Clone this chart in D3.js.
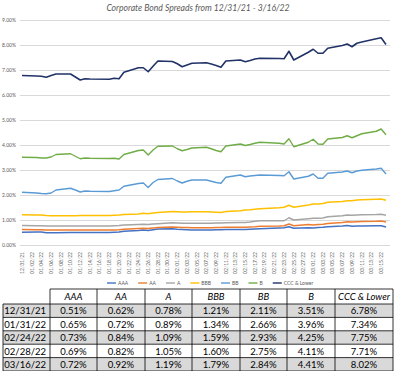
<!DOCTYPE html>
<html><head><meta charset="utf-8">
<script src="https://cdn.jsdelivr.net/npm/d3@7/dist/d3.min.js"></script>
<style>body{margin:0;background:#fff;}svg{display:block;}</style>
</head><body><svg id="c" width="399" height="371"></svg>
<script>
const dates = ["2021-12-31","2022-01-03","2022-01-04","2022-01-05","2022-01-06","2022-01-07","2022-01-10","2022-01-11","2022-01-12","2022-01-13","2022-01-14","2022-01-18","2022-01-19","2022-01-20","2022-01-21","2022-01-24","2022-01-25","2022-01-26","2022-01-27","2022-01-28","2022-01-31","2022-02-01","2022-02-02","2022-02-03","2022-02-04","2022-02-07","2022-02-08","2022-02-09","2022-02-10","2022-02-11","2022-02-14","2022-02-15","2022-02-16","2022-02-17","2022-02-18","2022-02-22","2022-02-23","2022-02-24","2022-02-25","2022-02-28","2022-03-01","2022-03-02","2022-03-03","2022-03-04","2022-03-07","2022-03-08","2022-03-09","2022-03-10","2022-03-11","2022-03-14","2022-03-15","2022-03-16"];
const seriesNames = ["AAA","AA","A","BBB","BB","B","CCC & Lower"];
const AAA = [0.51,0.52,0.52,0.49,0.49,0.49,0.50,0.50,0.50,0.50,0.50,0.50,0.51,0.52,0.55,0.58,0.60,0.58,0.61,0.64,0.65,0.63,0.62,0.61,0.60,0.60,0.60,0.61,0.61,0.62,0.62,0.62,0.63,0.64,0.65,0.68,0.69,0.73,0.67,0.69,0.68,0.70,0.71,0.73,0.76,0.78,0.75,0.76,0.76,0.77,0.77,0.72];
const AA = [0.62,0.61,0.61,0.60,0.60,0.60,0.60,0.60,0.60,0.60,0.60,0.60,0.60,0.61,0.63,0.66,0.67,0.66,0.68,0.70,0.72,0.71,0.70,0.70,0.69,0.69,0.69,0.70,0.70,0.71,0.71,0.71,0.72,0.73,0.75,0.76,0.77,0.84,0.77,0.82,0.80,0.82,0.83,0.86,0.90,0.93,0.92,0.93,0.94,0.95,0.96,0.92];
const A = [0.78,0.77,0.77,0.76,0.76,0.76,0.76,0.76,0.76,0.76,0.76,0.76,0.77,0.78,0.80,0.82,0.83,0.82,0.84,0.85,0.89,0.88,0.87,0.87,0.87,0.87,0.87,0.88,0.88,0.89,0.90,0.90,0.92,0.95,0.97,0.97,0.97,1.09,1.00,1.05,1.07,1.07,1.08,1.13,1.17,1.20,1.19,1.20,1.21,1.22,1.23,1.19];
const BBB = [1.21,1.20,1.20,1.18,1.17,1.17,1.17,1.17,1.18,1.18,1.18,1.18,1.19,1.20,1.22,1.24,1.27,1.25,1.28,1.30,1.34,1.33,1.32,1.32,1.33,1.33,1.32,1.31,1.30,1.34,1.37,1.40,1.41,1.43,1.45,1.49,1.51,1.59,1.51,1.60,1.64,1.64,1.66,1.71,1.74,1.77,1.77,1.80,1.81,1.83,1.84,1.79];
const BB = [2.11,2.08,2.06,2.05,2.08,2.20,2.27,2.20,2.12,2.16,2.15,2.14,2.17,2.20,2.35,2.46,2.48,2.30,2.50,2.62,2.66,2.56,2.48,2.55,2.60,2.60,2.55,2.50,2.47,2.71,2.80,2.73,2.76,2.78,2.80,2.78,2.77,2.93,2.64,2.75,2.84,2.67,2.67,2.87,2.92,2.96,2.89,2.96,2.99,3.04,3.07,2.84];
const B = [3.51,3.50,3.48,3.48,3.52,3.62,3.65,3.55,3.45,3.48,3.47,3.46,3.47,3.44,3.62,3.78,3.80,3.60,3.80,3.95,3.96,3.85,3.77,3.82,3.88,3.91,3.85,3.78,3.73,3.96,4.04,3.98,4.02,4.07,4.11,4.07,4.04,4.25,3.93,4.11,4.23,4.04,4.03,4.24,4.30,4.37,4.29,4.37,4.45,4.55,4.64,4.41];
const CCC = [6.78,6.76,6.75,6.71,6.78,6.84,6.84,6.72,6.60,6.65,6.64,6.63,6.67,6.65,6.91,7.09,7.09,6.93,7.15,7.36,7.34,7.25,7.13,7.20,7.27,7.29,7.24,7.18,7.11,7.36,7.40,7.33,7.38,7.44,7.47,7.46,7.45,7.75,7.40,7.71,7.83,7.67,7.67,7.87,7.98,8.04,7.93,8.07,8.12,8.25,8.29,8.02];
const colors = ["#4472C4","#ED7D31","#A5A5A5","#FFC000","#5B9BD5","#70AD47","#203267"];
const yTicks = [0,1,2,3,4,5,6,7,8,9];
const titleText = "Corporate Bond Spreads from 12/31/21 - 3/16/22";
const tableDates = ["12/31/21","01/31/22","02/24/22","02/28/22","03/16/22"];
const tableAAA = ["0.51%","0.65%","0.73%","0.69%","0.72%"];
const tableAA = ["0.62%","0.72%","0.84%","0.82%","0.92%"];
const tableA = ["0.78%","0.89%","1.09%","1.05%","1.19%"];
const tableBBB = ["1.21%","1.34%","1.59%","1.60%","1.79%"];
const tableBB = ["2.11%","2.66%","2.93%","2.75%","2.84%"];
const tableB = ["3.51%","3.96%","4.25%","4.11%","4.41%"];
const tableCCC = ["6.78%","7.34%","7.75%","7.71%","8.02%"];

const svg = d3.select("#c");
const parse = d3.timeParse("%Y-%m-%d");
const X = dates.map(parse);
const allSeries = [AAA,AA,A,BBB,BB,B,CCC];

const x = d3.scaleTime().domain([X[0], X[X.length-1]]).range([22, 386]);
const y = d3.scaleLinear().domain([0,9]).range([245, 20]);

// title
svg.append("text").attr("x",198).attr("y",11).attr("text-anchor","middle")
  .attr("font-family","Lato, 'Open Sans', sans-serif").attr("font-style","italic")
  .attr("font-size",8.6).attr("fill","#595959").text(titleText);

// gridlines
svg.append("g").selectAll("line").data(yTicks).join("line")
  .attr("x1",20).attr("x2",390).attr("y1",d=>y(d)+0.5).attr("y2",d=>y(d)+0.5)
  .attr("stroke","#d9d9d9").attr("stroke-width",1);
svg.append("g").selectAll("text").data(yTicks).join("text")
  .attr("x",16).attr("y",d=>y(d)+1.8).attr("text-anchor","end")
  .attr("font-family","Lato, sans-serif").attr("font-size",5).attr("fill","#595959")
  .text(d=>d3.format(".2f")(d)+"%");

// x ticks every 2 days
const tickDates = d3.timeDay.range(X[0], d3.timeDay.offset(X[X.length-1],1)).filter((d,i)=>i%2===0);
const fmt = d3.timeFormat("%m/%d/%y");
svg.append("g").selectAll("text").data(tickDates).join("text")
  .attr("transform",d=>`translate(${x(d)+1.8},252) rotate(-90)`)
  .attr("text-anchor","end")
  .attr("font-family","Lato, sans-serif").attr("font-size",5).attr("fill","#595959")
  .text(d=>fmt(d));

// lines
const line = d3.line().x((d,i)=>x(X[i])).y(d=>y(d));
svg.append("g").selectAll("path").data(allSeries).join("path")
  .attr("d",d=>line(d)).attr("fill","none")
  .attr("stroke",(d,i)=>colors[i]).attr("stroke-width",(d,i)=>i===6?1.6:1.4)
  .attr("stroke-linejoin","round");

// legend
const lg = svg.append("g").attr("font-family","Lato, sans-serif").attr("font-size",5).attr("fill","#595959");
let lx = 107;
seriesNames.forEach((n,i)=>{
  lg.append("line").attr("x1",lx).attr("x2",lx+9).attr("y1",283).attr("y2",283)
    .attr("stroke",colors[i]).attr("stroke-width",1.4);
  const t = lg.append("text").attr("x",lx+11).attr("y",284.8).text(n);
  const w = t.node().getComputedTextLength();
  lx += 11 + w + 10;
});

// table
const cols = [3,50,97,145,192,240,287,335,393];
const headerTop = 289, headerH = 15, rowH = 13.4;
const tg = svg.append("g").attr("font-family","Lato, 'Open Sans', sans-serif").attr("font-size",9.5).attr("fill","#000");
const tableCols = [tableAAA,tableAA,tableA,tableBBB,tableBB,tableB,tableCCC];
tableDates.forEach((d,r)=>{
  const top = headerTop+headerH+r*rowH;
  if(r%2===0) tg.append("rect").attr("x",cols[0]).attr("y",top).attr("width",cols[8]-cols[0]).attr("height",rowH).attr("fill","#d9d9d9");
});
// header texts
seriesNames.forEach((n,i)=>{
  tg.append("text").attr("x",(cols[i+1]+cols[i+2])/2).attr("y",headerTop+11).attr("text-anchor","middle")
    .attr("font-style","italic").text(n);
});
tableDates.forEach((d,r)=>{
  const top = headerTop+headerH+r*rowH;
  tg.append("text").attr("x",cols[1]-4).attr("y",top+rowH-3).attr("text-anchor","end").text(d);
  tableCols.forEach((c,i)=>{
    tg.append("text").attr("x",(cols[i+1]+cols[i+2])/2).attr("y",top+rowH-3).attr("text-anchor","middle").text(c[r]);
  });
});
// borders
const bl = svg.append("g").attr("stroke","#000").attr("stroke-width",0.8);
bl.append("line").attr("x1",cols[1]).attr("x2",cols[8]).attr("y1",headerTop).attr("y2",headerTop);
for(let r=0;r<=5;r++){
  const yy = headerTop+headerH+r*rowH;
  bl.append("line").attr("x1",cols[0]).attr("x2",cols[8]).attr("y1",yy).attr("y2",yy);
}
cols.forEach((c,i)=>{
  bl.append("line").attr("x1",c).attr("x2",c).attr("y1",i===0?headerTop+headerH:headerTop).attr("y2",headerTop+headerH+5*rowH);
});
</script></body></html>
